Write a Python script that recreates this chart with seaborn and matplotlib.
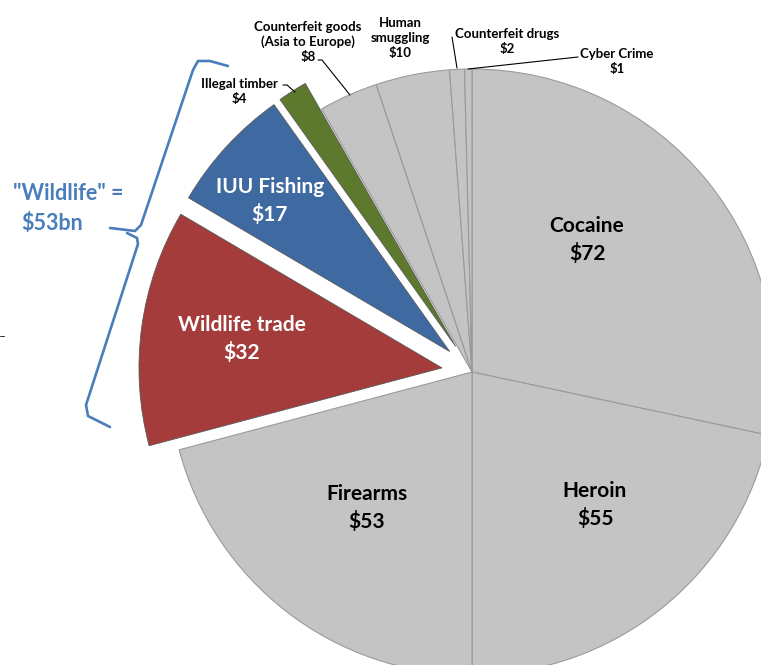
import matplotlib
matplotlib.use("Agg")
import matplotlib.pyplot as plt
import seaborn as sns

# ---- data ----
categories = ["Cocaine", "Heroin", "Firearms", "Wildlife trade", "IUU Fishing",
              "Illegal timber", "Counterfeit goods\n(Asia to Europe)", "Human\nsmuggling",
              "Counterfeit drugs", "Cyber Crime"]
values = [72, 55, 53, 32, 17, 4, 8, 10, 2, 1]
exploded = [0, 0, 0, 0.1, 0.1, 0.1, 0, 0, 0, 0]
colors = ["#c4c4c4", "#c4c4c4", "#c4c4c4", "#a33c3a", "#3e6aa1",
          "#5c792d", "#c4c4c4", "#c4c4c4", "#c4c4c4", "#c4c4c4"]
bracket_lines = ['"Wildlife" =', '$53bn']

sns.set_theme(style="white")
plt.rcParams['font.family'] = ['Lato', 'DejaVu Sans']

W, H = 761, 665
CX, CY, R = 472, 372, 303

fig = plt.figure(figsize=(W / 100, H / 100), dpi=100)
ax = fig.add_axes([0, 0, 1, 1])

def P(px, py):
    return ((px - CX) / R, (CY - py) / R)

wedges, _ = ax.pie(values, explode=exploded, colors=colors, startangle=90,
                   counterclock=False, radius=1.0,
                   wedgeprops=dict(linewidth=0.8, edgecolor="#9a9a9a"))
for w, c in zip(wedges, colors):
    if c != "#c4c4c4":
        w.set_edgecolor("#5a5a5a")
        w.set_linewidth(0.6)

ax.set_aspect("auto")
ax.set_xlim(-CX / R, (W - CX) / R)
ax.set_ylim(-(H - CY) / R, CY / R)
ax.axis("off")

# ---- labels ----
big = dict(fontsize=15, fontweight="bold", ha="center", va="center", linespacing=1.4)
small = dict(fontsize=9.5, fontweight="bold", ha="center", va="center", linespacing=1.3)

label_pos = {
    "Cocaine": (587, 240), "Heroin": (595, 505), "Firearms": (367, 508),
}
for name, v in zip(categories, values):
    if name in label_pos:
        ax.text(*P(*label_pos[name]), f"{name}\n${v}", color="black", **big)

ax.text(*P(242, 339), f"{categories[3]}\n${values[3]}", color="white", **big)
ax.text(*P(270, 201), f"{categories[4]}\n${values[4]}", color="white", **big)

ax.text(*P(239, 92), f"{categories[5]}\n${values[5]}", color="black", **small)
ax.text(*P(308, 42), f"{categories[6]}\n${values[6]}", color="black", **small)
ax.text(*P(400, 38), f"{categories[7]}\n${values[7]}", color="black", **small)
ax.text(*P(507, 41), f"{categories[8]}\n${values[8]}", color="black", **small)
ax.text(*P(617, 62), f"{categories[9]}\n${values[9]}", color="black", **small)

# leader lines
def line(pts, **kw):
    xs, ys = zip(*[P(*p) for p in pts])
    ax.plot(xs, ys, **kw)

lk = dict(color="black", linewidth=0.8)
line([(283, 85), (287, 85), (295, 92)], **lk)
line([(318, 60), (322, 60), (350, 95)], **lk)
line([(452, 37), (457, 68)], **lk)
line([(578, 57), (468, 69)], **lk)

# bracket
bk = dict(color="#4a7ebb", linewidth=1.9, solid_capstyle="round", solid_joinstyle="round")
line([(228, 66), (210, 61), (198, 61), (193, 70), (141, 225), (135, 231), (110, 228)], **bk)
line([(127, 233), (137, 238), (138, 244), (86, 405), (88, 416), (110, 427)], **bk)
ax.text(*P(68, 193), bracket_lines[0], color="#4a7ebb", fontsize=15.5, fontweight="bold",
        ha="center", va="center")
ax.text(*P(52, 223), bracket_lines[1], color="#4a7ebb", fontsize=15.5, fontweight="bold",
        ha="center", va="center")

# tiny dash artifact at left edge
line([(0, 336), (4, 336)], color="black", linewidth=0.6)

fig.savefig("out.png", dpi=100)
